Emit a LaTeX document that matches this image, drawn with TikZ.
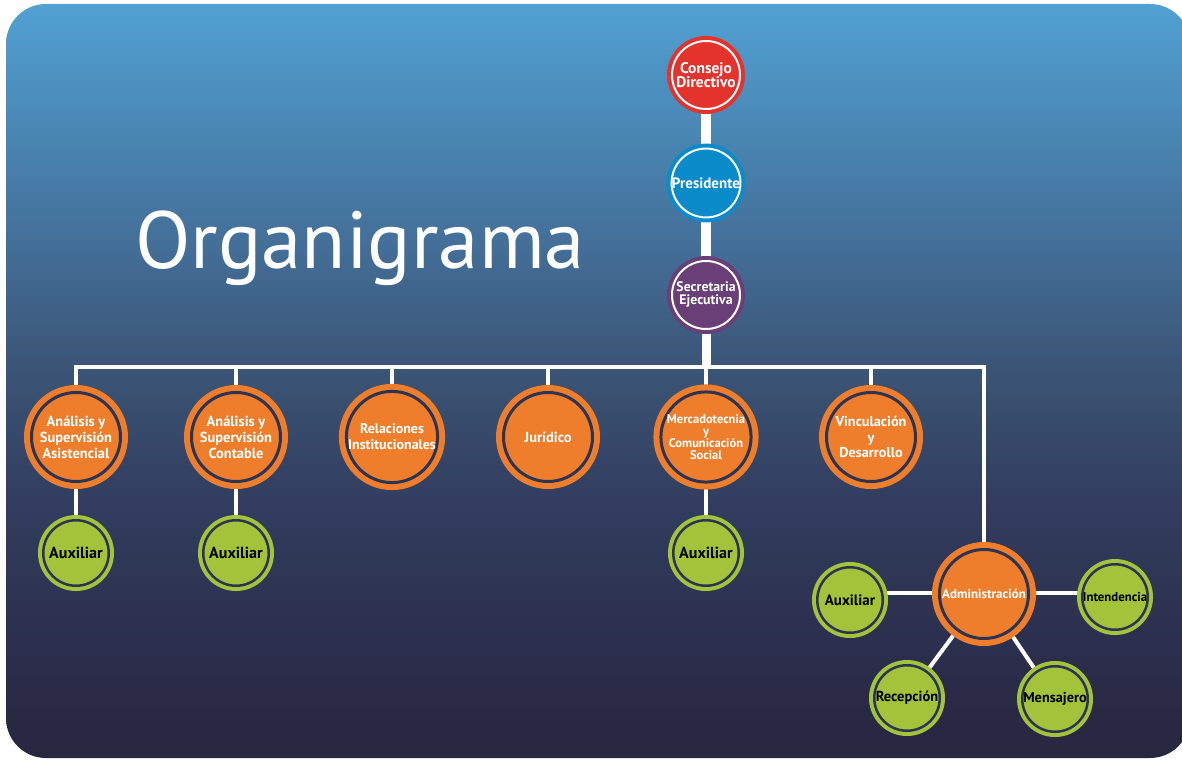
\documentclass[tikz,border=0pt]{standalone}
\usepackage{fontspec}
\setmainfont{PT Sans}
\definecolor{cred}{HTML}{E4322C}
\definecolor{cblue}{HTML}{0C8BCB}
\definecolor{cpurple}{HTML}{6A3F78}
\definecolor{corange}{HTML}{EE7E2B}
\definecolor{cgreen}{HTML}{A3C43A}
\definecolor{cring}{HTML}{2C3454}
\definecolor{bgA}{HTML}{29263F}
\definecolor{bgB}{HTML}{2A2B48}
\definecolor{bgC}{HTML}{323D5F}
\definecolor{bgD}{HTML}{3B5576}
\definecolor{bgE}{HTML}{436D96}
\definecolor{bgF}{HTML}{51A1D3}
\pgfdeclareverticalshading{bgshade}{100bp}{color(0bp)=(bgA); color(25bp)=(bgA); color(30bp)=(bgB); color(42bp)=(bgC); color(51bp)=(bgD); color(58.5bp)=(bgE); color(75bp)=(bgF); color(100bp)=(bgF)}
\pgfdeclarelayer{bglayer}
\pgfdeclarelayer{edgelayer}
\pgfsetlayers{bglayer,edgelayer,main}
\tikzset{
  topnode/.style={circle, minimum size=68, inner sep=0, fill=#1, draw=#1, double=white, double distance=2, line width=4, text=white, font=\bfseries\fontsize{15}{14.5}\selectfont, align=center},
  deptnode/.style={circle, minimum size=89, inner sep=0, fill=corange, draw=corange, double=cring, double distance=3, line width=6, text=white, font=\bfseries\fontsize{14.5}{16}\selectfont, align=center},
  auxnode/.style={circle, minimum size=65.5, inner sep=0, fill=cgreen, draw=cgreen, double=cring, double distance=2.5, line width=4, text=black, font=\bfseries\fontsize{14.5}{16}\selectfont, align=center},
  trunk/.style={draw=white, line width=10},
  link/.style={draw=white, line width=4},
}
\begin{document}
\begin{tikzpicture}[x=1pt,y=-1pt]
\useasboundingbox (0,0) rectangle (1182,760);
\begin{pgfonlayer}{bglayer}
\fill[white] (0,0) rectangle (1182,760);
\shade[shading=bgshade, rounded corners=40] (6,4) rectangle (1190,758);
\end{pgfonlayer}

\node[text=white, font=\fontsize{81}{81}\selectfont, anchor=base west, inner sep=0] (title) at (135,268) {Organigrama};

\node[topnode=cred, font=\bfseries\fontsize{15.5}{14.5}\selectfont] (cd) at (706,75) {Consejo\\Directivo};
\node[topnode=cblue] (pr) at (706,183) {Presidente};
\node[topnode=cpurple, font=\bfseries\fontsize{13.8}{13}\selectfont] (se) at (706,295) {Secretaria\\Ejecutiva};

\node[deptnode] (o1) at (76,437) {Análisis y\\Supervisión\\Asistencial};
\node[deptnode] (o2) at (236,437) {Análisis y\\Supervisión\\Contable};
\node[deptnode, font=\bfseries\fontsize{14}{16}\selectfont] (o3) at (392,437) {Relaciones\\Institucionales};
\node[deptnode] (o4) at (548,437) {Jurídico};
\node[deptnode, font=\bfseries\fontsize{12.5}{12}\selectfont] (o5) at (706,437) {Mercadotecnia\\y\\Comunicación\\Social};
\node[deptnode, font=\bfseries\fontsize{14.3}{15.5}\selectfont] (o6) at (871,437) {Vinculación\\y\\Desarrollo};
\node[deptnode, font=\bfseries\fontsize{13}{14}\selectfont] (adm) at (984,594) {Administración};

\node[auxnode, font=\bfseries\fontsize{16}{16}\selectfont] (a1) at (76,553) {Auxiliar};
\node[auxnode, font=\bfseries\fontsize{16}{16}\selectfont] (a2) at (236,553) {Auxiliar};
\node[auxnode, font=\bfseries\fontsize{16}{16}\selectfont] (a3) at (706,553) {Auxiliar};
\node[auxnode, font=\bfseries\fontsize{15}{16}\selectfont] (a4) at (850,600) {Auxiliar};
\node[auxnode, font=\bfseries\fontsize{12.8}{14}\selectfont] (int) at (1115,597) {Intendencia};
\node[auxnode] (rec) at (907,698) {Recepción};
\node[auxnode, font=\bfseries\fontsize{14.3}{16}\selectfont] (men) at (1055,699) {Mensajero};

\coordinate (bus) at (706,367);
\coordinate (admrow) at (984,593);

\begin{pgfonlayer}{edgelayer}
\draw[trunk] (cd.center) -- (se.center);
\draw[draw=white, line width=9] (se.center) -- (bus);
\draw[link] (o1.center) |- (bus) -| (adm.center);
\foreach \n in {o2,o3,o4,o5,o6}{
  \draw[link] (\n.center) -- (\n.center |- bus);
}
\draw[link] (o1.center) -- (a1.center);
\draw[link] (o2.center) -- (a2.center);
\draw[link] (o5.center) -- (a3.center);
\draw[link] (a4.center |- admrow) -- (int.center |- admrow);
\draw[link] (adm.center) -- (rec.center);
\draw[link] (adm.center) -- (men.center);
\end{pgfonlayer}
\end{tikzpicture}
\end{document}
